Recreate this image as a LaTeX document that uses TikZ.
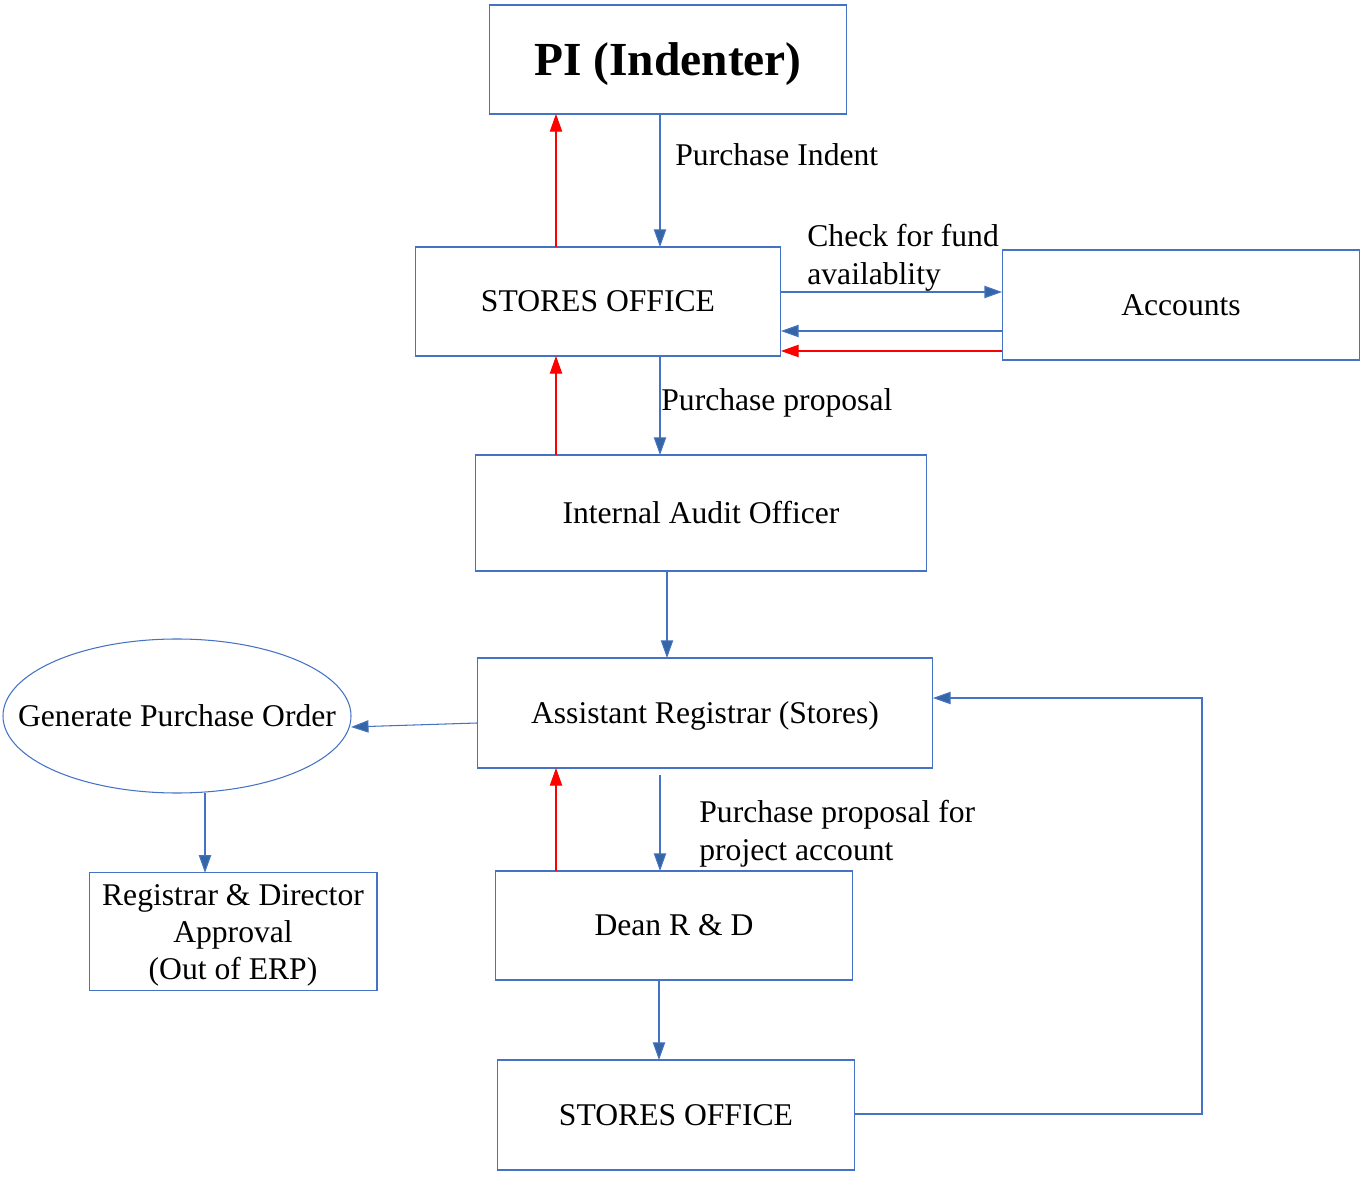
\documentclass[tikz,border=0pt]{standalone}
\usepackage{fontspec}
\setmainfont{Liberation Serif}
\usepackage{tikz}
\usetikzlibrary{shapes.geometric, arrows.meta, positioning}

\definecolor{boxblue}{RGB}{68,114,196}
\definecolor{headblue}{RGB}{52,101,164}

\begin{document}
\begin{tikzpicture}[
    x=0.02cm, y=-0.02cm, % 1 unit = 1 pixel of the sketch
    box/.style={rectangle, draw=boxblue, line width=0.6pt, inner sep=2pt, outer sep=0pt, text height=12.6pt, text depth=0.7pt, font=\fontsize{18}{21.5}\selectfont},
    tallbox/.style={rectangle, draw=boxblue, line width=0.6pt, inner sep=2pt, outer sep=0pt, align=center, font=\fontsize{18}{21.1}\selectfont},
    lbl/.style={anchor=west, inner sep=0pt, align=left, font=\fontsize{18}{21.5}\selectfont},
    line/.style={draw=boxblue, line width=0.6pt, -{Triangle[length=10pt, width=7pt, fill=headblue]}},
    back/.style={draw=red, line width=0.6pt, -{Triangle[length=10pt, width=7pt, fill=red]}}
]
    \useasboundingbox (0,0) rectangle (1360,1182);

    % Nodes
    \node [box, minimum width=7.16cm, minimum height=2.18cm, text height=18.9pt, text depth=1pt, font=\fontsize{27}{32}\selectfont\bfseries] (pi) at (668,59.5) {PI (Indenter)};
    \node [box, minimum width=7.32cm, minimum height=2.18cm] (stores) at (598,301.5) {STORES OFFICE};
    \node [box, minimum width=7.16cm, minimum height=2.2cm] (accounts) at (1181,305) {Accounts};
    \node [box, minimum width=9.04cm, minimum height=2.32cm] (audit) at (701,513) {Internal Audit Officer};
    \node [box, minimum width=9.12cm, minimum height=2.2cm] (asreg) at (705,713) {Assistant Registrar (Stores)};
    \node [box, draw=none, minimum width=6.96cm, minimum height=3.08cm] (order) at (177,716) {Generate Purchase Order};
    \draw [boxblue, line width=0.6pt] (order.center) ellipse [x radius=174, y radius=77];
    \node [tallbox, minimum width=5.76cm, minimum height=2.34cm, text height=59pt] (approval) at (233,931.5) {Registrar \& Director\\Approval\\(Out of ERP)};
    \node [box, minimum width=7.16cm, minimum height=2.18cm] (dean) at (674,925.5) {Dean R \& D};
    \node [box, minimum width=7.16cm, minimum height=2.2cm] (storesb) at (676,1115) {STORES OFFICE};

    % Labels
    \node [lbl] (lblindent) at (675,155) {Purchase Indent};
    \node [lbl] (lblfund) at (807,258) {Check for fund\\availablity};
    \node [lbl] (lblproposal) at (661,403) {Purchase proposal};
    \node [lbl] (lblproject) at (699,834) {Purchase proposal for\\project account};

    % Forward flow
    \path [line] (pi.south -| 660,0) -- (stores.north -| 660,0);
    \path [line] (stores.east |- 0,292) -- (accounts.west |- 0,292);
    \path [line] (accounts.west |- 0,331) -- (stores.east |- 0,331);
    \path [line] (stores.south -| 660,0) -- (audit.north -| 660,0);
    \path [line] (audit.south -| 667,0) -- (asreg.north -| 667,0);
    \path [line] (asreg.west |- 0,723) -- (order.east |- 0,727);
    \path [line] (order.south -| 205,0) -- (approval.north -| 205,0);
    \path [line] (660,775) -- (dean.north -| 660,0);
    \path [line] (dean.south -| 659,0) -- (storesb.north -| 659,0);
    \path [line] (storesb.east |- 0,1114) -| (1202,698) -- (asreg.east |- 0,698);

    % Return flow
    \path [back] (stores.north -| 556,0) -- (pi.south -| 556,0);
    \path [back] (accounts.west |- 0,351) -- (stores.east |- 0,351);
    \path [back] (audit.north -| 556,0) -- (stores.south -| 556,0);
    \path [back] (dean.north -| 556,0) -- (asreg.south -| 556,0);
\end{tikzpicture}
\end{document}
